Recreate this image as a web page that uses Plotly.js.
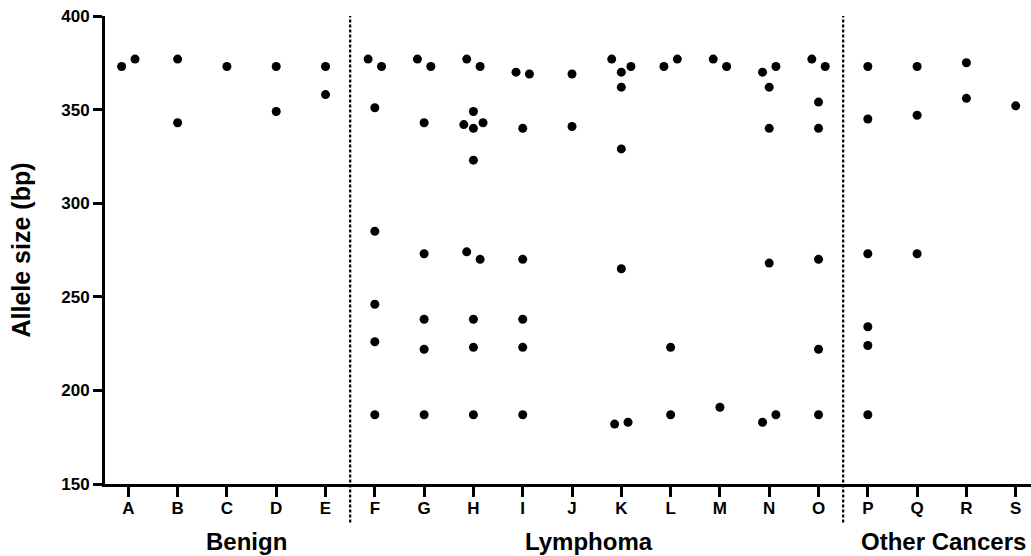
<!DOCTYPE html>
<html>
<head>
<meta charset="utf-8">
<script src="https://cdn.plot.ly/plotly-3.0.1.min.js"></script>
<style>
  html, body { margin: 0; padding: 0; background: #fff; }
  #chart { width: 1031px; height: 556px; }
</style>
</head>
<body>
<div id="chart"></div>
<script>
// ---------- data (allele sizes in bp) ----------
var categories = ["A","B","C","D","E","F","G","H","I","J","K","L","M","N","O","P","Q","R","S"];

var A = [373, 377];
var B = [377, 343];
var C = [373];
var D = [373, 349];
var E = [373, 358];
var F = [377, 373, 351, 285, 246, 226, 187];
var G = [377, 373, 343, 273, 238, 222, 187];
var H = [377, 373, 349, 342, 340, 343, 323, 274, 270, 238, 223, 187];
var I = [370, 369, 340, 270, 238, 223, 187];
var J = [369, 341];
var K = [377, 370, 373, 362, 329, 265, 182, 183];
var L = [373, 377, 223, 187];
var M = [377, 373, 191];
var N = [370, 373, 362, 340, 268, 183, 187];
var O = [377, 373, 354, 340, 270, 222, 187];
var P = [373, 345, 273, 234, 224, 187];
var Q = [373, 347, 273];
var R = [375, 356];
var S = [352];

var groupLabels = ["Benign", "Lymphoma", "Other Cancers"];
var yTicks = [150, 200, 250, 300, 350, 400];

var seriesByCategory = [A,B,C,D,E,F,G,H,I,J,K,L,M,N,O,P,Q,R,S];

// ---------- layout geometry ----------
var W = 1031, Hgt = 556;
var margin = {l: 105, r: 0, t: 16, b: 72};
var xRange = [-0.473, 18.31];
var yRange = [150, 400];
var plotW = W - margin.l - margin.r;
var plotH = Hgt - margin.t - margin.b;
var pxPerX = plotW / (xRange[1] - xRange[0]);
var pxPerY = plotH / (yRange[1] - yRange[0]);
var markerSize = 9;

// simple scatter-dot-plot swarm: points whose values would overlap
// are grouped and spread side by side (in data order, left to right)
var xs = [], ys = [];
seriesByCategory.forEach(function (vals, ci) {
  var thr = (markerSize + 0.4) / pxPerY; // overlap threshold in data units (~5 bp)
  var used = vals.map(function(){ return false; });
  for (var i = 0; i < vals.length; i++) {
    if (used[i]) continue;
    var cluster = [i]; used[i] = true;
    var grew = true;
    while (grew) {
      grew = false;
      for (var j = 0; j < vals.length; j++) {
        if (used[j]) continue;
        for (var k = 0; k < cluster.length; k++) {
          if (Math.abs(vals[j] - vals[cluster[k]]) < thr) {
            cluster.push(j); used[j] = true; grew = true; break;
          }
        }
      }
    }
    cluster.sort(function(a,b){ return a-b; });
    var n = cluster.length;
    var sp = n === 2 ? 13.4 : 9.6; // px between neighbours
    cluster.forEach(function (idx, pos) {
      var off = (pos - (n - 1) / 2) * sp / pxPerX;
      xs.push(ci + off);
      ys.push(vals[idx]);
    });
  }
});

var font = "Liberation Sans, Arial, Helvetica, sans-serif";

var trace = {
  type: "scatter",
  mode: "markers",
  x: xs,
  y: ys,
  marker: {color: "#000", size: markerSize, line: {width: 0}},
  hoverinfo: "y",
  showlegend: false,
  cliponaxis: false
};

var layout = {
  width: W,
  height: Hgt,
  margin: margin,
  paper_bgcolor: "#fff",
  plot_bgcolor: "#fff",
  showlegend: false,
  xaxis: {
    range: xRange,
    tickmode: "array",
    tickvals: categories.map(function(_, i){ return i; }),
    ticktext: categories,
    showgrid: false,
    zeroline: false,
    showline: true,
    linecolor: "#000",
    linewidth: 3,
    ticks: "outside",
    ticklen: 10,
    tickwidth: 3,
    tickcolor: "#000",
    ticklabelstandoff: -3,
    tickfont: {family: font, size: 17, color: "#000", weight: 700},
    fixedrange: true
  },
  yaxis: {
    range: yRange,
    tickmode: "array",
    tickvals: yTicks,
    ticktext: yTicks.map(String),
    showgrid: false,
    zeroline: false,
    showline: true,
    linecolor: "#000",
    linewidth: 3,
    ticks: "outside",
    ticklen: 9,
    tickwidth: 3,
    tickcolor: "#000",
    tickfont: {family: font, size: 17, color: "#000", weight: 700},
    title: {text: "Allele size (bp)", font: {family: font, size: 25, color: "#000", weight: 700}, standoff: 24},
    fixedrange: true
  },
  shapes: [4.5, 14.5].map(function (xv) {
    return {
      type: "line", xref: "x", yref: "paper",
      x0: xv, x1: xv, y0: -0.082, y1: 1,
      line: {color: "#000", width: 2.2, dash: "3px,2px"}
    };
  }),
  annotations: [
    {text: groupLabels[0], x: 2.4},
    {text: groupLabels[1], x: 9.34},
    {text: groupLabels[2], x: 16.54}
  ].map(function (a) {
    return {
      text: a.text, x: a.x, xref: "x", y: -0.123, yref: "paper",
      xanchor: "center", yanchor: "middle", showarrow: false,
      font: {family: font, size: 24, color: "#000", weight: 700}
    };
  })
};

Plotly.newPlot("chart", [trace], layout, {displayModeBar: false, staticPlot: true});
</script>
</body>
</html>
